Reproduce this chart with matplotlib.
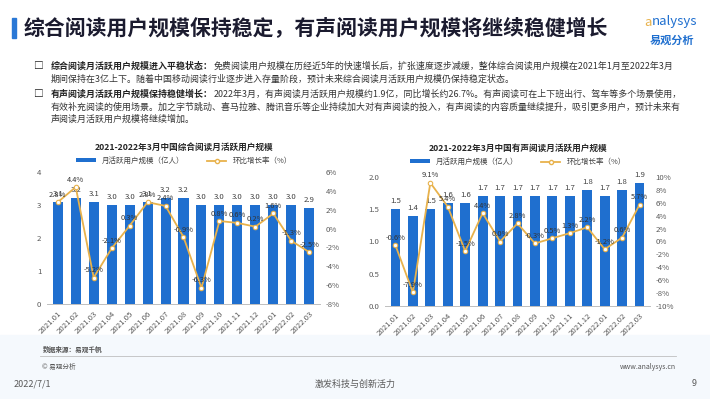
import matplotlib
matplotlib.use("Agg")
import matplotlib.pyplot as plt
from matplotlib.patches import Rectangle
from matplotlib.lines import Line2D
from matplotlib.patches import Patch
import numpy as np

plt.rcParams['font.family'] = ['Noto Sans CJK SC', 'DejaVu Sans']

months = ["2021.01", "2021.02", "2021.03", "2021.04", "2021.05", "2021.06", "2021.07",
          "2021.08", "2021.09", "2021.10", "2021.11", "2021.12", "2022.01", "2022.02", "2022.03"]

comp_users = [3.1, 3.2, 3.1, 3.0, 3.0, 3.1, 3.2, 3.2, 3.0, 3.0, 3.0, 3.0, 3.0, 3.0, 2.9]
comp_growth = [2.8, 4.4, -5.2, -2.1, 0.3, 2.8, 2.4, -0.9, -6.3, 0.8, 0.6, 0.2, 1.6, -1.3, -2.5]

audio_users = [1.5, 1.4, 1.5, 1.6, 1.6, 1.7, 1.7, 1.7, 1.7, 1.7, 1.7, 1.8, 1.7, 1.8, 1.9]
audio_growth = [-0.6, -7.9, 9.1, 5.4, -1.5, 4.4, 0.0, 2.8, -0.3, 0.5, 1.3, 2.2, -1.2, 0.6, 5.7]

title_main = "综合阅读用户规模保持稳定，有声阅读用户规模将继续稳健增长"
chart1_title = "2021-2022年3月中国综合阅读月活跃用户规模"
chart2_title = "2021-2022年3月中国有声阅读月活跃用户规模"
legend_bar = "月活跃用户规模（亿人）"
legend_line = "环比增长率（%）"

BAR = "#1f6fcf"
LINE = "#e8b24c"
TXT = "#404040"
GRAY = "#595959"

W, H = 710, 399
fig = plt.figure(figsize=(7.1, 3.99), dpi=100)
fig.patch.set_facecolor("white")
renderer = fig.canvas.get_renderer()

def fx(px):
    return px / W

def fy(py):
    return 1 - py / H

# faint background band at bottom
fig.patches.append(Rectangle((0, 0), 1, fy(335), transform=fig.transFigure,
                             color="#f5f9fd", zorder=-10))

# title bar
fig.patches.append(Rectangle((fx(12), fy(38)), fx(4), 20 / H, transform=fig.transFigure,
                             color="#2a78d6", zorder=1))
fig.text(fx(24), fy(28), title_main, fontsize=15.0, fontweight="bold",
         color="#1b1b2f", va="center", ha="left")

# logo
fig.text(fx(652), fy(22), "nalysys", fontsize=9.5, style="italic", color="#1f6fcf",
         va="center", ha="left")
fig.text(fx(648), fy(22), "a", fontsize=9.5, color="#e8b24c", va="center", ha="center")
fig.text(fx(672), fy(40), "易观分析", fontsize=8, color="#1f6fcf", va="center", ha="center",
         fontweight="bold")

# bullets
bul_fs = 6.45

def bullet_line(y, bold, rest):
    t = fig.text(fx(51), fy(y), bold, fontsize=bul_fs, fontweight="bold",
                 color="#222222", va="center")
    bb = t.get_window_extent(renderer=renderer)
    fig.text(bb.x1 / W + 0.001, fy(y), rest, fontsize=bul_fs, color="#333333", va="center")

fig.text(fx(33), fy(66), "□", fontsize=7, color="#222222", va="center", fontweight="bold")
bullet_line(66, "综合阅读月活跃用户规模进入平稳状态：",
            "免费阅读用户规模在历经近5年的快速增长后，扩张速度逐步减缓，整体综合阅读用户规模在2021年1月至2022年3月")
fig.text(fx(51), fy(79), "期间保持在3亿上下。随着中国移动阅读行业逐步进入存量阶段，预计未来综合阅读月活跃用户规模仍保持稳定状态。",
         fontsize=bul_fs, color="#333333", va="center")

fig.text(fx(33), fy(94), "□", fontsize=7, color="#222222", va="center", fontweight="bold")
bullet_line(94, "有声阅读月活跃用户规模保持稳健增长：",
            "2022年3月，有声阅读月活跃用户规模约1.9亿，同比增长约26.7%。有声阅读可在上下班出行、驾车等多个场景使用，")
fig.text(fx(51), fy(107), "有效补充阅读的使用场景。加之字节跳动、喜马拉雅、腾讯音乐等企业持续加大对有声阅读的投入，有声阅读的内容质量继续提升，吸引更多用户，预计未来有",
         fontsize=bul_fs, color="#333333", va="center")
fig.text(fx(51), fy(119), "声阅读月活跃用户规模将继续增加。",
         fontsize=bul_fs, color="#333333", va="center")


def make_chart(rect, users, growth, ylim, yticks, ylabels, glim, gticks, title, tx, ty, ly):
    ax = fig.add_axes(rect)
    ax.patch.set_alpha(0)
    x = np.arange(len(months))
    ax.bar(x, users, width=0.56, color=BAR, zorder=2)
    ax.set_xlim(-0.6, len(months) - 0.4)
    ax.set_ylim(*ylim)
    ax.set_yticks(yticks)
    ax.set_yticklabels(ylabels)
    ax.set_xticks(x)
    ax.set_xticklabels(months, rotation=45, ha="right", rotation_mode="anchor")
    ax.tick_params(axis="both", length=0, labelsize=5.6, colors=GRAY, pad=4)
    for s in ["top", "right", "left"]:
        ax.spines[s].set_visible(False)
    ax.spines["bottom"].set_color("#bfbfbf")
    ax.spines["bottom"].set_linewidth(0.7)
    for xi, v in zip(x, users):
        ax.annotate(f"{v:.1f}", (xi, v), xytext=(0, 3), textcoords="offset points",
                    ha="center", va="bottom", fontsize=5.6, color=TXT)
    ax2 = ax.twinx()
    ax2.plot(x, growth, color=LINE, lw=1.3, marker="o", ms=3.2, mfc="white",
             mec=LINE, mew=0.8, zorder=3)
    ax2.set_ylim(*glim)
    ax2.set_yticks(gticks)
    ax2.set_yticklabels([f"{g}%" for g in gticks])
    ax2.tick_params(axis="y", length=0, labelsize=5.6, colors=GRAY, pad=4)
    for s in ["top", "right", "left", "bottom"]:
        ax2.spines[s].set_visible(False)
    for xi, g in zip(x, growth):
        ax2.annotate(f"{g:.1f}%", (xi, g), xytext=(0, 2.5), textcoords="offset points",
                     ha="center", va="bottom", fontsize=5.4, color="#333333", zorder=4)
    fig.text(tx, ty, title, fontsize=6.2, fontweight="bold", color="#262626",
             ha="center", va="center")
    handles = [Patch(facecolor=BAR, edgecolor="none"),
               Line2D([0], [0], color=LINE, lw=1.3, marker="o", ms=3, mfc="white", mec=LINE)]
    fig.legend(handles, [legend_bar, legend_line], loc="center", bbox_to_anchor=(tx, ly),
               ncol=2, frameon=False, fontsize=5.4, handlelength=2.6, handleheight=0.5,
               columnspacing=3.0, labelcolor=TXT)
    return ax, ax2


make_chart([fx(47), fy(304), 273 / W, 132 / H], comp_users, comp_growth,
           (0, 4), [0, 1, 2, 3, 4], ["0", "1", "2", "3", "4"],
           (-8, 6), [-8, -6, -4, -2, 0, 2, 4, 6], chart1_title,
           fx(184), fy(147), fy(161))

make_chart([fx(385), fy(306), 265 / W, 129 / H], audio_users, audio_growth,
           (0, 2.0), [0, 0.5, 1.0, 1.5, 2.0], ["0.0", "0.5", "1.0", "1.5", "2.0"],
           (-10, 10), [-10, -8, -6, -4, -2, 0, 2, 4, 6, 8, 10], chart2_title,
           fx(518), fy(148), fy(162))

# footer
fig.text(fx(43), fy(349), "数据来源：易观千帆", fontsize=4.8, color="#555555",
         va="center", fontweight="bold")
fig.add_artist(Line2D([fx(40), fx(676)], [fy(356), fy(356)], color="#bfbfbf", lw=0.6,
                      transform=fig.transFigure))
fig.text(fx(42), fy(367), "© 易观分析", fontsize=4.8, color="#555555", va="center")
fig.text(fx(676), fy(367), "www.analysys.cn", fontsize=5, color="#555555", va="center",
         ha="right")
fig.text(fx(14), fy(384), "2022/7/1", fontsize=6.5, color="#595959", va="center")
fig.text(fx(355), fy(384), "激发科技与创新活力", fontsize=6.5, color="#595959", va="center",
         ha="center")
fig.text(fx(697), fy(384), "9", fontsize=6.5, color="#595959", va="center", ha="right")

fig.savefig("out.png", dpi=100)
